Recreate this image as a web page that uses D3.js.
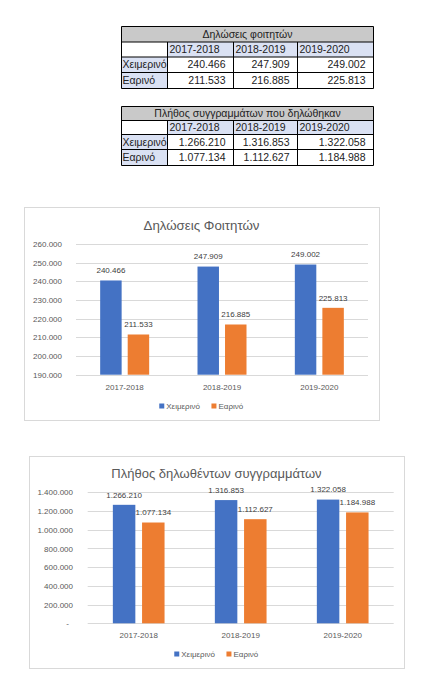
<!DOCTYPE html>
<html>
<head>
<meta charset="utf-8">
<script src="https://cdn.jsdelivr.net/npm/d3@7"></script>
<style>
  body { margin: 0; background: #fff; }
  svg { display: block; font-family: "Liberation Sans", Arial, sans-serif; }
</style>
</head>
<body>
<svg id="page" width="443" height="696"></svg>
<script>
// data
var years = ["2017-2018", "2018-2019", "2019-2020"];
var semesters = ["Χειμερινό", "Εαρινό"];
var studentsWinter = [240466, 247909, 249002];
var studentsSpring = [211533, 216885, 225813];
var booksWinter = [1266210, 1316853, 1322058];
var booksSpring = [1077134, 1112627, 1184988];
var studentTicks = [190000, 200000, 210000, 220000, 230000, 240000, 250000, 260000];
var bookTicks = [0, 200000, 400000, 600000, 800000, 1000000, 1200000, 1400000];

var colors = ["#4472c4", "#ed7d31"];
var locale = d3.formatLocale({decimal: ",", thousands: ".", grouping: [3], currency: ["", "€"]});
var fmt = locale.format(",");
var smallFont = "8px";

var svg = d3.select("#page");
svg.append("rect").attr("width", 443).attr("height", 696).attr("fill", "#fff");

// table helper
function drawTable(title, rowsA, rowsB, cols, rowsY) {
	var g = svg.append("g");
	var x0 = cols[0], x1 = cols[cols.length - 1];
	// fills
	g.append("rect").attr("x", x0).attr("y", rowsY[0]).attr("width", x1 - x0).attr("height", rowsY[1] - rowsY[0]).attr("fill", "#c9c9c9");
	g.append("rect").attr("x", cols[1]).attr("y", rowsY[1]).attr("width", x1 - cols[1]).attr("height", rowsY[2] - rowsY[1]).attr("fill", "#dae1f3");
	g.append("rect").attr("x", x0).attr("y", rowsY[2]).attr("width", cols[1] - x0).attr("height", rowsY[4] - rowsY[2]).attr("fill", "#dae1f3");
	// grid lines
	rowsY.forEach(function(y) {
		g.append("line").attr("x1", x0).attr("x2", x1).attr("y1", y).attr("y2", y).attr("stroke", "#000").attr("stroke-width", 1);
	});
	cols.forEach(function(x, i) {
		var top = (i == 0 || i == cols.length - 1) ? rowsY[0] : rowsY[1];
		g.append("line").attr("x1", x).attr("x2", x).attr("y1", top).attr("y2", rowsY[4]).attr("stroke", "#000").attr("stroke-width", 1);
	});
	function mid(i) { return (rowsY[i] + rowsY[i + 1]) / 2; }
	g.append("text").attr("x", (x0 + x1) / 2).attr("y", mid(0)).attr("dy", "0.35em")
		.attr("text-anchor", "middle").attr("font-size", "10.5px").attr("fill", "#222").text(title);
	years.forEach(function(yr, i) {
		g.append("text").attr("x", cols[i + 1] + 2).attr("y", mid(1)).attr("dy", "0.35em")
			.attr("font-size", "10.5px").attr("fill", "#222").text(yr);
		g.append("text").attr("x", cols[i + 2] - 8).attr("y", mid(2)).attr("dy", "0.35em")
			.attr("text-anchor", "end").attr("font-size", "10.5px").attr("fill", "#222").text(fmt(rowsA[i]));
		g.append("text").attr("x", cols[i + 2] - 8).attr("y", mid(3)).attr("dy", "0.35em")
			.attr("text-anchor", "end").attr("font-size", "10.5px").attr("fill", "#222").text(fmt(rowsB[i]));
	});
	semesters.forEach(function(s, i) {
		g.append("text").attr("x", x0 + 1).attr("y", mid(i + 2)).attr("dy", "0.35em")
			.attr("font-size", "10.5px").attr("fill", "#222").text(s);
	});
}

drawTable("Δηλώσεις φοιτητών", studentsWinter, studentsSpring,
	[121.5, 167.5, 233.5, 297.5, 373.5], [26.5, 42, 57, 72.5, 88.5]);
drawTable("Πλήθος συγγραμμάτων που δηλώθηκαν", booksWinter, booksSpring,
	[121.5, 167.5, 233.5, 297.5, 373.5], [106.5, 120.5, 134.5, 149.5, 165.5]);

// chart helper
function drawChart(c) {
	var g = svg.append("g");
	g.append("rect").attr("x", c.frame[0] + 0.5).attr("y", c.frame[1] + 0.5)
		.attr("width", c.frame[2] - c.frame[0]).attr("height", c.frame[3] - c.frame[1])
		.attr("fill", "#fff").attr("stroke", "#d9d9d9").attr("stroke-width", 1);
	var cx = (c.frame[0] + c.frame[2]) / 2;

	g.append("text").attr("x", cx).attr("y", c.titleY).attr("dy", "0.35em")
		.attr("text-anchor", "middle").attr("font-size", c.titleSize).attr("fill", "#595959").text(c.title);

	var y = d3.scaleLinear().domain([c.ticks[0], c.ticks[c.ticks.length - 1]]).range(c.yRange);
	var x0 = d3.scaleBand().domain(years).range(c.xRange);
	var x1 = d3.scaleBand().domain(semesters).range([0, c.group]).paddingInner(c.gapFrac);

	// grid
	g.selectAll(".grid").data(c.ticks).enter().append("line")
		.attr("x1", c.xRange[0]).attr("x2", c.xRange[1])
		.attr("y1", function(d) { return Math.round(y(d)) + 0.5; })
		.attr("y2", function(d) { return Math.round(y(d)) + 0.5; })
		.attr("stroke", "#d9d9d9").attr("stroke-width", 1);

	// y axis labels
	var yAxis = d3.axisLeft(y).tickValues(c.ticks).tickSize(0).tickPadding(0)
		.tickFormat(function(d) { return d == 0 ? "-" : fmt(d); });
	var ya = g.append("g").attr("transform", "translate(" + c.labelRight + ",0)").call(yAxis);
	ya.select(".domain").remove();
	ya.selectAll("text").attr("font-size", smallFont).attr("fill", "#595959")
		.attr("font-family", "'Liberation Sans', Arial, sans-serif")
		.attr("dx", function(d) { return d == 0 ? -4 : 0; });

	// x axis labels
	var xAxis = d3.axisBottom(x0).tickSize(0).tickPadding(0);
	var xa = g.append("g").attr("transform", "translate(0," + c.xLabelY + ")").call(xAxis);
	xa.select(".domain").remove();
	xa.selectAll("text").attr("font-size", smallFont).attr("fill", "#595959").attr("dy", "0.35em")
		.attr("font-family", "'Liberation Sans', Arial, sans-serif");

	// bars
	var rows = years.map(function(yr, i) {
		return {year: yr, vals: [{s: semesters[0], v: c.a[i]}, {s: semesters[1], v: c.b[i]}]};
	});
	var grp = g.selectAll(".grp").data(rows).enter().append("g")
		.attr("transform", function(d) { return "translate(" + (x0(d.year) + x0.bandwidth() / 2 - c.group / 2) + ",0)"; });
	grp.selectAll("rect").data(function(d) { return d.vals; }).enter().append("rect")
		.attr("x", function(d) { return x1(d.s); })
		.attr("width", x1.bandwidth())
		.attr("y", function(d) { return y(d.v); })
		.attr("height", function(d) { return c.yRange[0] - y(d.v); })
		.attr("fill", function(d, i) { return colors[i]; });
	grp.selectAll("text").data(function(d) { return d.vals; }).enter().append("text")
		.attr("x", function(d) { return x1(d.s) + x1.bandwidth() / 2; })
		.attr("y", function(d) { return y(d.v) - 10; })
		.attr("dy", "0.35em")
		.attr("text-anchor", "middle").attr("font-size", smallFont).attr("fill", "#404040")
		.text(function(d) { return fmt(d.v); });

	// legend
	var lg = g.append("g");
	var items = lg.selectAll("g").data(semesters).enter().append("g");
	items.append("rect").attr("width", 5).attr("height", 5).attr("y", -2.5)
		.attr("fill", function(d, i) { return colors[i]; });
	items.append("text").attr("x", 7).attr("dy", "0.35em").attr("font-size", smallFont).attr("fill", "#595959")
		.text(function(d) { return d; });
	var xoff = 0;
	items.each(function() {
		var w = this.getBBox().width;
		d3.select(this).attr("transform", "translate(" + xoff + ",0)");
		xoff += w + 11;
	});
	var total = xoff - 11;
	lg.attr("transform", "translate(" + (cx - total / 2) + "," + c.legendY + ")");
}

drawChart({
	frame: [24, 207, 379, 420],
	title: "Δηλώσεις Φοιτητών", titleY: 225, titleSize: "13.3px",
	ticks: studentTicks, yRange: [374.7, 244], xRange: [76, 368],
	group: 49, gapFrac: 0.22, labelRight: 62,
	xLabelY: 387, legendY: 406,
	a: studentsWinter, b: studentsSpring
});

drawChart({
	frame: [29, 456, 404, 668],
	title: "Πλήθος δηλωθέντων συγγραμμάτων", titleY: 473, titleSize: "13px",
	ticks: bookTicks, yRange: [623.3, 492.3], xRange: [87.7, 393.7],
	group: 51.7, gapFrac: 0.23, labelRight: 73,
	xLabelY: 635, legendY: 654,
	a: booksWinter, b: booksSpring
});
</script>
</body>
</html>
